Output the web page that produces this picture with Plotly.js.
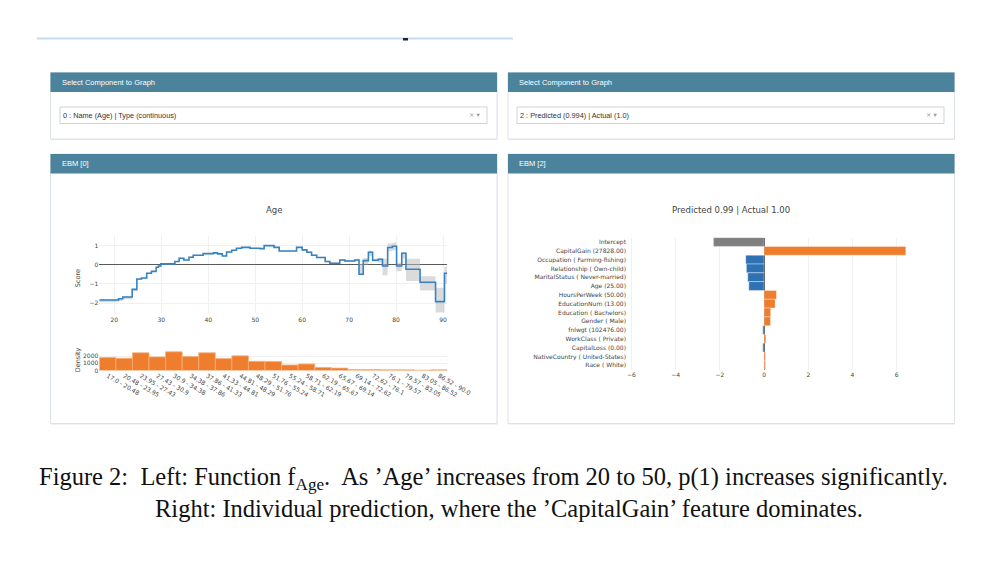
<!DOCTYPE html>
<html>
<head>
<meta charset="utf-8">
<script src="https://cdn.plot.ly/plotly-3.0.1.min.js"></script>
<style>html,body{margin:0;padding:0;background:#fff;}#chart{width:1000px;height:573px;}</style>
</head>
<body>
<div id="chart"></div>
<script>
// ---------- Data ----------
// Left: shape function f_Age (step function; value holds from each break to the next)
const ageBreaks = [16.8, 20.9, 21.8, 23.8, 24.8, 25.8, 26.9, 27.9, 28.9, 29.4, 29.9, 32.9, 33.8, 34.8, 35.9, 36.8, 38.9, 41.1, 42.0, 43.0, 43.9, 45.0, 46.0, 47.1, 48.9, 51.0, 51.9, 54.0, 55.1, 58.8, 60.0, 61.0, 62.0, 63.1, 64.9, 65.9, 68.0, 69.1, 71.2, 72.1, 73.0, 74.1, 75.0, 76.2, 77.1, 78.2, 79.2, 80.1, 81.2, 82.1, 85.1, 88.4, 90.3, 90.9];
const ageScores = [-1.84, -1.78, -1.69, -1.29, -0.75, -0.70, -0.45, -0.35, -0.14, -0.07, 0.04, 0.16, 0.33, 0.24, 0.38, 0.49, 0.57, 0.61, 0.56, 0.45, 0.66, 0.75, 0.85, 0.90, 0.85, 0.83, 0.99, 0.90, 0.71, 0.90, 0.77, 0.64, 0.49, 0.37, 0.16, 0.07, 0.24, 0.19, 0.24, -0.50, 0.21, 0.64, 0.23, 0.28, -0.07, 0.89, 0.96, -0.07, 0.59, -0.24, -0.92, -1.93, -0.45];
const ageUpper  = [-1.80, -1.75, -1.66, -1.26, -0.72, -0.67, -0.42, -0.32, -0.11, -0.04, 0.07, 0.19, 0.36, 0.27, 0.41, 0.52, 0.60, 0.64, 0.59, 0.48, 0.69, 0.78, 0.88, 0.93, 0.88, 0.86, 1.02, 0.93, 0.74, 0.94, 0.81, 0.68, 0.53, 0.41, 0.20, 0.11, 0.29, 0.24, 0.30, 0.05, 0.35, 0.72, 0.30, 0.35, 0.30, 1.10, 1.15, 0.10, 0.65, 0.30, -0.60, -1.20, -0.10];
const ageLower  = [-1.96, -1.90, -1.80, -1.38, -0.80, -0.74, -0.49, -0.39, -0.18, -0.11, 0.01, 0.13, 0.30, 0.21, 0.35, 0.46, 0.54, 0.58, 0.53, 0.42, 0.63, 0.72, 0.82, 0.87, 0.82, 0.80, 0.96, 0.87, 0.68, 0.86, 0.73, 0.60, 0.45, 0.33, 0.12, 0.03, 0.19, 0.14, 0.18, -0.55, 0.00, 0.45, 0.15, 0.10, -0.55, 0.70, 0.75, -0.35, 0.30, -0.85, -1.35, -2.50, -1.00];

// Left: density histogram
const densityBins = ["17.0 - 20.48", "20.48 - 23.95", "23.95 - 27.43", "27.43 - 30.9", "30.9 - 34.38", "34.38 - 37.86", "37.86 - 41.33", "41.33 - 44.81", "44.81 - 48.29", "48.29 - 51.76", "51.76 - 55.24", "55.24 - 58.71", "58.71 - 62.19", "62.19 - 65.67", "65.67 - 69.14", "69.14 - 72.62", "72.62 - 76.1", "76.1 - 79.57", "79.57 - 83.05", "83.05 - 86.52", "86.52 - 90.0"];
const densityCounts = [1810, 1714, 2476, 1905, 2619, 1952, 2476, 1667, 2048, 1286, 1270, 762, 905, 429, 333, 143, 143, 95, 95, 48, 95];

// Right: individual prediction contributions
const featureNames = ["Intercept", "CapitalGain (27828.00)", "Occupation ( Farming-fishing)", "Relationship ( Own-child)", "MaritalStatus ( Never-married)", "Age (25.00)", "HoursPerWeek (50.00)", "EducationNum (13.00)", "Education ( Bachelors)", "Gender ( Male)", "fnlwgt (102476.00)", "WorkClass ( Private)", "CapitalLoss (0.00)", "NativeCountry ( United-States)", "Race ( White)"];
const featureScores = [-2.29, 6.41, -0.83, -0.80, -0.74, -0.69, 0.56, 0.50, 0.30, 0.29, -0.06, 0.08, -0.06, 0.06, 0.06];

// ---------- Helpers (pixel -> paper) ----------
const W = 1000, H = 573;
const px = x => x / W;
const py = y => 1 - y / H;

const ORANGE = '#ee7d2e', BLUE = '#2f72b4', GREY = '#7f7f7f';
const barColors = featureScores.map((v, i) => i === 0 ? GREY : (v >= 0 ? ORANGE : BLUE));

const stepY = a => a.concat([a[a.length - 1]]);

const traces = [
  {x: ageBreaks, y: stepY(ageLower), type: 'scatter', mode: 'lines', line: {shape: 'hv', width: 0, color: 'rgba(0,0,0,0)'}, xaxis: 'x', yaxis: 'y', hoverinfo: 'skip', showlegend: false},
  {x: ageBreaks, y: stepY(ageUpper), type: 'scatter', mode: 'lines', line: {shape: 'hv', width: 0, color: 'rgba(0,0,0,0)'}, fill: 'tonexty', fillcolor: 'rgba(190,190,190,0.55)', xaxis: 'x', yaxis: 'y', hoverinfo: 'skip', showlegend: false},
  {x: ageBreaks, y: stepY(ageScores), type: 'scatter', mode: 'lines', line: {shape: 'hv', width: 1.6, color: '#3683c4'}, xaxis: 'x', yaxis: 'y', showlegend: false},
  {x: densityBins, y: densityCounts, type: 'bar', marker: {color: ORANGE, line: {color: '#f6b07a', width: 0.8}}, xaxis: 'x2', yaxis: 'y2', showlegend: false},
  {x: featureScores, y: featureNames, type: 'bar', orientation: 'h', marker: {color: barColors, line: {color: 'rgba(255,255,255,0.6)', width: 0.6}}, xaxis: 'x3', yaxis: 'y3', showlegend: false}
];

const tickFont = {family: 'DejaVu Sans', size: 6, color: '#444'};
const gridC = '#f0f0f0';

const shapes = [];
function rect(x0, y0, x1, y1, fill, line, lw) {
  shapes.push({type: 'rect', xref: 'paper', yref: 'paper', x0: px(x0), x1: px(x1), y0: py(y1), y1: py(y0), fillcolor: fill, line: {color: line, width: lw === undefined ? 1 : lw}, layer: 'below'});
}
// top rule
shapes.push({type: 'line', xref: 'paper', yref: 'paper', x0: px(37), x1: px(513), y0: py(38.5), y1: py(38.5), line: {color: '#c6dbf3', width: 2}, layer: 'below'});
rect(403, 38, 408, 40.5, '#222', '#222', 0);
// panels: shadow, body, header
const panelsX = [[50.5, 497], [508, 954.5]];
panelsX.forEach(([a, b]) => {
  rect(a + 0.5, 73.5, b + 0.5, 140, '#e4e6ee', '#e4e6ee', 0);
  rect(a, 72.5, b, 139, '#ffffff', '#dde1ea', 1);
  rect(a, 72.5, b, 92, '#4a839b', '#4a839b', 0);
  rect(a + 0.5, 155, b + 0.5, 424.5, '#e4e6ee', '#e4e6ee', 0);
  rect(a, 154, b, 423.5, '#ffffff', '#dde1ea', 1);
  rect(a, 154, b, 173.5, '#4a839b', '#4a839b', 0);
});
rect(60, 107, 487, 123.5, '#ffffff', '#cfd3d8', 1);
rect(517, 107, 944, 123.5, '#ffffff', '#cfd3d8', 1);

const ann = [];
function txt(x, y, t, size, color, family, xanchor, extra) {
  ann.push(Object.assign({xref: 'paper', yref: 'paper', x: px(x), y: py(y), text: t, showarrow: false, xanchor: xanchor || 'left', yanchor: 'middle', font: {family: family || 'Liberation Sans', size: size, color: color}}, extra || {}));
}
txt(60, 82.3, 'Select Component to Graph', 7.5, '#ffffff');
txt(517, 82.3, 'Select Component to Graph', 7.5, '#ffffff');
txt(61, 115.3, '0 : Name (Age) | Type (continuous)', 7.3, '#333333');
txt(518, 115.3, '2 : Predicted (0.994) | Actual (1.0)', 7.3, '#333333');
txt(467, 115.3, '× ▾', 6.5, '#999999', 'DejaVu Sans');
txt(924, 115.3, '× ▾', 6.5, '#999999', 'DejaVu Sans');
txt(60, 163.8, 'EBM [0]', 7.5, '#ffffff');
txt(517, 163.8, 'EBM [2]', 7.5, '#ffffff');
txt(274, 210.5, 'Age', 8.5, '#444444', 'DejaVu Sans', 'center');
txt(731, 210.5, 'Predicted 0.99 | Actual 1.00', 8.5, '#444444', 'DejaVu Sans', 'center');
txt(78.3, 278, 'Score', 6.5, '#444444', 'DejaVu Sans', 'center', {textangle: -90});
txt(78.3, 360, 'Density', 6.5, '#444444', 'DejaVu Sans', 'center', {textangle: -90});
// caption
txt(37, 478.5, 'Figure 2:  Left: Function f<sub>Age</sub>.  As ’Age’ increases from 20 to 50, p(1) increases significantly.', 24.5, '#111111', 'Liberation Serif');
txt(153, 508, 'Right: Individual prediction, where the ’CapitalGain’ feature dominates.', 24.5, '#111111', 'Liberation Serif');

const layout = {
  width: W, height: H, autosize: false,
  margin: {l: 0, r: 0, t: 0, b: 0, pad: 0},
  paper_bgcolor: '#ffffff', plot_bgcolor: 'rgba(0,0,0,0)',
  font: {family: 'DejaVu Sans', size: 6, color: '#444'},
  showlegend: false, bargap: 0,
  xaxis: {domain: [px(99.3), px(447.3)], range: [16.8, 90.9], anchor: 'y', tickvals: [20, 30, 40, 50, 60, 70, 80, 90], showgrid: true, gridcolor: gridC, zeroline: false, showline: false, ticks: '', tickfont: tickFont, ticklabelstandoff: 2},
  yaxis: {domain: [py(313), py(236)], range: [-2.52, 1.49], anchor: 'x', tickvals: [-2, -1, 0, 1], showgrid: true, gridcolor: gridC, zeroline: true, zerolinecolor: '#5a5a5a', zerolinewidth: 1.4, showline: false, ticks: '', tickfont: tickFont},
  xaxis2: {domain: [px(99.3), px(447.3)], anchor: 'y2', type: 'category', categoryorder: 'array', categoryarray: densityBins, tickangle: 30, showgrid: false, zeroline: false, ticks: '', tickfont: tickFont},
  yaxis2: {domain: [py(370.5), py(350.5)], range: [0, 2800], anchor: 'x2', tickvals: [0, 1000, 2000], showgrid: true, gridcolor: gridC, zeroline: false, ticks: '', tickfont: tickFont},
  xaxis3: {domain: [px(627), px(910)], range: [-6.2, 6.6], anchor: 'y3', tickvals: [-6, -4, -2, 0, 2, 4, 6], showgrid: true, gridcolor: gridC, zeroline: true, zerolinecolor: '#444', zerolinewidth: 1, ticks: '', tickfont: tickFont},
  yaxis3: {domain: [py(369.7), py(237.6)], anchor: 'x3', type: 'category', categoryorder: 'array', categoryarray: featureNames, autorange: 'reversed', showgrid: false, zeroline: false, ticks: '', tickfont: tickFont},
  shapes: shapes,
  annotations: ann
};
layout.barmode = 'overlay';

Plotly.newPlot('chart', traces, layout, {displayModeBar: false, staticPlot: true});
</script>
</body>
</html>
